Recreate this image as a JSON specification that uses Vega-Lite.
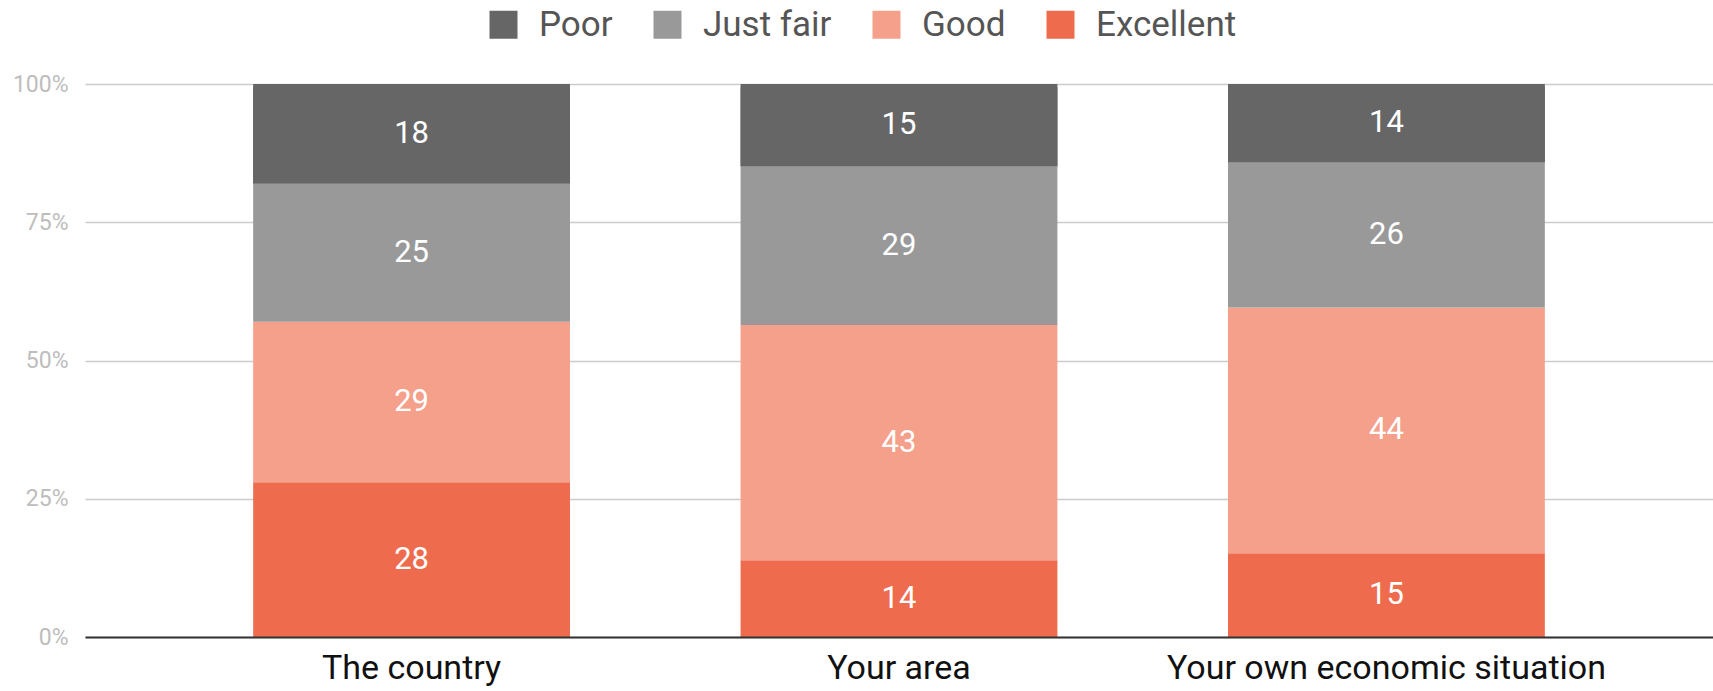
{
  "$schema": "https://vega.github.io/schema/vega-lite/v6.json",
  "width": 1628,
  "height": 553,
  "autosize": {"type": "none"},
  "padding": {"left": 85, "top": 84, "right": 0, "bottom": 54},
  "background": "white",
  "config": {
    "font": "Roboto",
    "view": {"stroke": null},
    "axis": {"labelFont": "Roboto"},
    "legend": {"labelFont": "Roboto"}
  },
  "data": {
    "values": [
      {"category": "The country", "rating": "Excellent", "order": 1, "value": 28},
      {"category": "The country", "rating": "Good", "order": 2, "value": 29},
      {"category": "The country", "rating": "Just fair", "order": 3, "value": 25},
      {"category": "The country", "rating": "Poor", "order": 4, "value": 18},
      {"category": "Your area", "rating": "Excellent", "order": 1, "value": 14},
      {"category": "Your area", "rating": "Good", "order": 2, "value": 43},
      {"category": "Your area", "rating": "Just fair", "order": 3, "value": 29},
      {"category": "Your area", "rating": "Poor", "order": 4, "value": 15},
      {"category": "Your own economic situation", "rating": "Excellent", "order": 1, "value": 15},
      {"category": "Your own economic situation", "rating": "Good", "order": 2, "value": 44},
      {"category": "Your own economic situation", "rating": "Just fair", "order": 3, "value": 26},
      {"category": "Your own economic situation", "rating": "Poor", "order": 4, "value": 14}
    ]
  },
  "transform": [
    {"stack": "value", "groupby": ["category"], "sort": [{"field": "order", "order": "ascending"}], "offset": "normalize", "as": ["y0", "y1"]},
    {"calculate": "(datum.y0 + datum.y1) / 2", "as": "ymid"}
  ],
  "encoding": {
    "x": {
      "field": "category",
      "type": "nominal",
      "sort": null,
      "scale": {"paddingInner": 0.35, "paddingOuter": 0.345},
      "axis": {
        "title": null,
        "labelAngle": 0,
        "labelFontSize": 34,
        "labelColor": "#111111",
        "labelPadding": 14,
        "labelLimit": 0,
        "ticks": false,
        "domain": true,
        "domainColor": "#333333",
        "domainWidth": 2,
        "zindex": 1
      }
    }
  },
  "layer": [
    {
      "mark": {"type": "bar"},
      "encoding": {
        "y": {
          "field": "y0",
          "type": "quantitative",
          "scale": {"domain": [0, 1]},
          "axis": {
            "title": null,
            "format": ".0%",
            "values": [0, 0.25, 0.5, 0.75, 1],
            "labelFontSize": 23,
            "labelColor": "#bdbdbd",
            "labelPadding": 17,
            "ticks": false,
            "domain": false,
            "gridColor": "#cccccc",
            "gridWidth": 1.5
          }
        },
        "y2": {"field": "y1"},
        "color": {
          "field": "rating",
          "type": "nominal",
          "scale": {
            "domain": ["Poor", "Just fair", "Good", "Excellent"],
            "range": ["#666666", "#999999", "#f4a08a", "#ef6b4e"]
          },
          "legend": {
            "title": null,
            "orient": "none",
            "direction": "horizontal",
            "legendX": 401,
            "legendY": -77,
            "symbolType": "square",
            "symbolSize": 784,
            "symbolStrokeWidth": 0,
            "labelFontSize": 35,
            "labelColor": "#555555",
            "labelOffset": 18,
            "columnPadding": 37
          }
        }
      }
    },
    {
      "transform": [{"filter": "datum.rating === 'Poor'"}],
      "mark": {"type": "bar", "cornerRadiusTopLeft": 4, "cornerRadiusTopRight": 4},
      "encoding": {
        "y": {"field": "y0", "type": "quantitative"},
        "y2": {"field": "y1"},
        "color": {"field": "rating", "type": "nominal"}
      }
    },
    {
      "mark": {"type": "text", "color": "#ffffff", "fontSize": 31, "baseline": "middle"},
      "encoding": {
        "y": {"field": "ymid", "type": "quantitative"},
        "text": {"field": "value", "type": "quantitative"}
      }
    }
  ]
}
